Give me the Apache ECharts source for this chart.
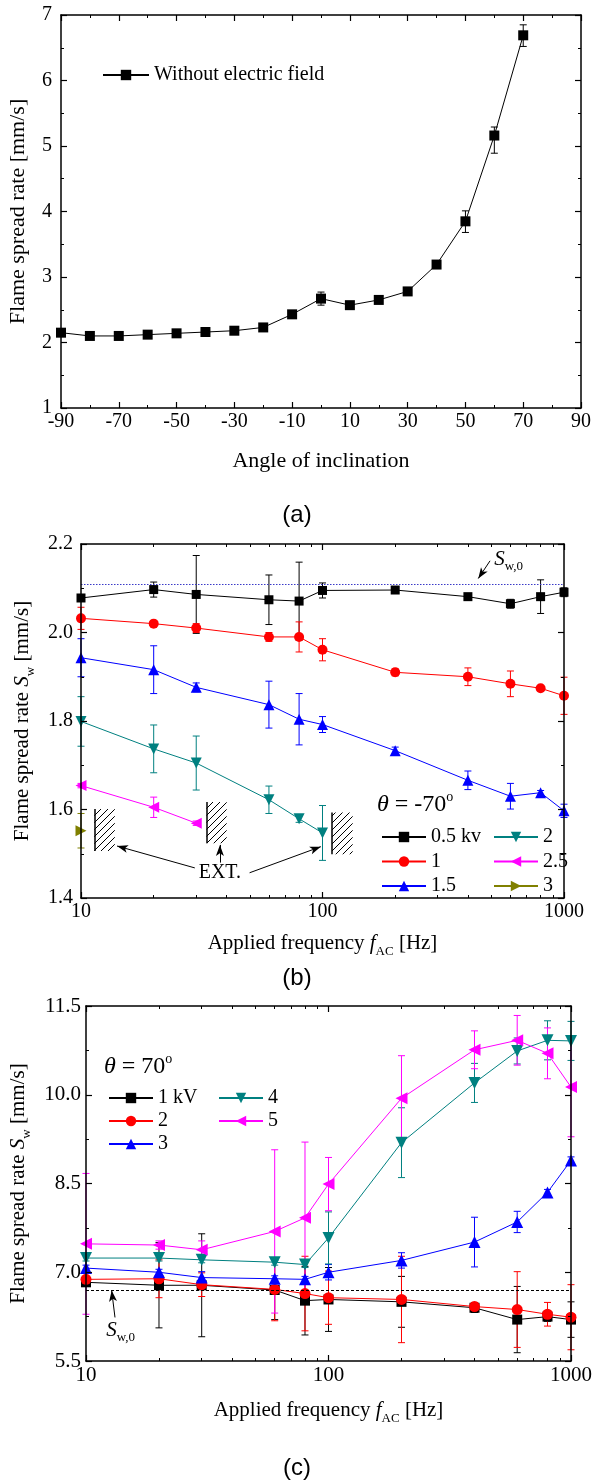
<!DOCTYPE html>
<html><head><meta charset="utf-8">
<script src="https://cdn.jsdelivr.net/npm/echarts@6/dist/echarts.min.js"></script>
<style>html,body{margin:0;padding:0;background:#fff}#c{width:594px;height:1484px}</style>
</head><body><div id="c"></div>
<script>
// ---------- Panel (a) data ----------
const angleA   = [-90,-80,-70,-60,-50,-40,-30,-20,-10,0,10,20,30,40,50,60,70];
const rateA    = [2.15,2.10,2.10,2.12,2.14,2.16,2.18,2.23,2.43,2.67,2.57,2.65,2.78,3.19,3.85,5.16,6.69];
const errUpA   = [0.03,0.03,0.03,0.03,0.03,0.03,0.03,0.03,0.03,0.10,0.03,0.03,0.03,0.03,0.16,0.13,0.16];
const errDownA = [0.03,0.03,0.03,0.03,0.03,0.03,0.03,0.03,0.03,0.10,0.03,0.03,0.03,0.03,0.17,0.27,0.17];
const xTicksA  = [-90, 90, 20];
const yTicksA  = [1, 7, 1];

// ---------- Panel (b) data : theta = -70 deg ----------
const freqB   = [10,20,30,60,80,100,200,400,600,800,1000];
const b05     = [2.078,2.097,2.086,2.074,2.071,2.095,2.096,2.081,2.065,2.081,2.091];
const b05Err  = [0.005,0.017,0.088,0.056,0.088,0.017,0.005,0.005,0.010,0.038,0.010];
const b1      = [2.032,2.020,2.010,1.990,1.990,1.961,1.910,1.900,1.884,1.874,1.857];
const b1Err   = [0.025,0.005,0.010,0.010,0.034,0.025,0.008,0.020,0.029,0.005,0.042];
const b15     = [1.943,1.916,1.876,1.837,1.804,1.792,1.733,1.666,1.630,1.638,1.597];
const b15Err  = [0.043,0.054,0.010,0.053,0.058,0.018,0.008,0.021,0.029,0.005,0.015];
const freqB2  = [10,20,30,60,80,100];
const b2      = [1.799,1.737,1.705,1.622,1.579,1.547];
const b2Err   = [0.056,0.054,0.061,0.031,0.008,0.062];
const freqB25 = [10,20,30];
const b25     = [1.654,1.605,1.569];
const b25Err  = [0.005,0.023,0.005];
const freqB3  = [10];
const b3      = [1.552];
const b3Err   = [0.039];
const sw0B    = 2.111;
const yTicksB = [1.4, 2.2, 0.2];

// ---------- Panel (c) data : theta = 70 deg ----------
const freqC  = [10,20,30,60,80,100,200,400,600,800,1000];
const c1     = [6.83,6.78,6.78,6.70,6.52,6.54,6.50,6.40,6.20,6.25,6.20];
const c1Err  = [0.05,0.72,0.87,0.50,0.58,0.54,0.43,0.08,0.56,0.08,0.30];
const c2     = [6.88,6.89,6.79,6.71,6.64,6.57,6.54,6.42,6.37,6.29,6.24];
const c2Err  = [0.10,0.32,0.20,0.53,0.63,0.45,0.73,0.07,0.64,0.20,0.55];
const c3     = [7.07,7.00,6.91,6.89,6.88,7.00,7.20,7.51,7.85,8.35,8.89];
const c3Err  = [0.05,0.05,0.10,0.05,0.05,0.13,0.13,0.42,0.18,0.05,0.06];
const c4     = [7.24,7.24,7.21,7.17,7.13,7.58,9.19,10.20,10.74,10.92,10.91];
const c4Err  = [0.05,0.05,0.05,0.05,0.05,0.44,0.59,0.33,0.22,0.33,0.33];
const c5     = [7.48,7.46,7.38,7.69,7.92,8.49,9.94,10.76,10.92,10.70,10.13];
const c5Err  = [1.19,0.07,0.15,1.38,1.28,0.45,0.72,0.32,0.42,0.43,0.84];
const sw0C   = 6.70;
const yTicksC = [5.5, 11.5, 1.5];

const minorFreqTicks = [20,30,40,50,60,70,80,90,200,300,400,500,600,700,800,900];

// ---------- Styling ----------
const SERIF = 'Liberation Serif';
const SANS = 'Liberation Sans';
const BLACK='#000000', RED='#ff0000', BLUE='#0000ff', TEAL='#008080', MAGENTA='#ff00ff', OLIVE='#808000';

const chart = echarts.init(document.getElementById('c'), null, {renderer:'canvas', width:594, height:1484});

function hatchPattern(){
  const s = 7;
  const c = document.createElement('canvas'); c.width = s; c.height = s;
  const g = c.getContext('2d');
  g.strokeStyle = '#000'; g.lineWidth = 1;
  g.beginPath();
  g.moveTo(-1, s+1); g.lineTo(s+1, -1);
  g.moveTo(-1, 1); g.lineTo(1, -1);
  g.moveTo(s-1, s+1); g.lineTo(s+1, s-1);
  g.stroke();
  return c;
}

const axisLineStyle = {color:'#000', width:1.5};
function baseAxis(extra){
  return Object.assign({
    axisLine:{show:true, onZero:false, lineStyle:axisLineStyle},
    splitLine:{show:false},
    axisTick:{show:true, inside:true, length:6, lineStyle:{color:'#000', width:1.2}},
    axisLabel:{show:false},
    z: 5
  }, extra);
}
const labelStyle = (size, margin) => ({show:true, color:'#000', fontFamily:SERIF, fontSize:size, margin:margin});
const logLabel = (size, margin) => Object.assign(labelStyle(size, margin), {formatter: v => String(Math.round(v))});
const richName = {
  n:{fontFamily:SERIF, fontSize:21, color:'#000', lineHeight:30},
  i:{fontFamily:SERIF, fontSize:21, fontStyle:'italic', color:'#000', lineHeight:30},
  s:{fontFamily:SERIF, fontSize:13, color:'#000', lineHeight:14, verticalAlign:'bottom'}
};

function errSeries(name, xs, ys, lo, hi, color, xi, yi, capW){
  return {
    type:'custom', name:name, xAxisIndex:xi, yAxisIndex:yi, silent:true, z:2,
    encode:{x:0, y:[1,2]},
    data: xs.map((x,i)=>[x, ys[i]-lo[i], ys[i]+hi[i]]),
    renderItem:(params, api)=>{
      const top = api.coord([api.value(0), api.value(2)]);
      const bot = api.coord([api.value(0), api.value(1)]);
      const x = top[0], h = capW/2;
      const st = {stroke:color, lineWidth:1};
      return {type:'group', children:[
        {type:'line', shape:{x1:x,y1:top[1],x2:x,y2:bot[1]}, style:st},
        {type:'line', shape:{x1:x-h,y1:top[1],x2:x+h,y2:top[1]}, style:st},
        {type:'line', shape:{x1:x-h,y1:bot[1],x2:x+h,y2:bot[1]}, style:st}
      ]};
    }
  };
}
function lineSeries(name, xs, ys, color, symbol, rotate, size, xi, yi){
  return {
    type:'line', name:name, xAxisIndex:xi, yAxisIndex:yi, z:3,
    data: xs.map((x,i)=>[x, ys[i]]),
    symbol:symbol, symbolRotate:rotate, symbolSize:size, showAllSymbol:true,
    lineStyle:{color:color, width:1}, itemStyle:{color:color},
    emphasis:{disabled:true}
  };
}

const labelMap = {
  'a0':'Without electric field',
  'b05':'0.5 kv','b1':'1','b15':'1.5','b2':'2','b25':'2.5','b3':'3',
  'c1':'1 kV','c2':'2','c3':'3','c4':'4','c5':'5'
};

// ---------- Axes ----------
const grids = [
  {left:61, right:13, top:15, height:393, outerBoundsMode:'none'},
  {left:81, right:30, top:544, height:354, outerBoundsMode:'none'},
  {left:86, right:23, top:1006, height:355, outerBoundsMode:'none'}
];

const logBase = {type:'log', logBase:10, min:10, max:1000};
const minorLog = {show:true, inside:true, length:3, customValues:minorFreqTicks, lineStyle:{color:'#000', width:1}};
const xAxes = [
  // panel a
  baseAxis({type:'value', gridIndex:0, position:'bottom', min:xTicksA[0], max:xTicksA[1], interval:xTicksA[2],
    minorTick:{show:true, splitNumber:2, length:3, lineStyle:{color:'#000', width:1}},
    axisLabel:labelStyle(20, 4),
    name:'Angle of inclination', nameLocation:'middle', nameGap:40,
    nameTextStyle:{fontFamily:SERIF, fontSize:22, color:'#000', lineHeight:26}}),
  baseAxis({type:'value', gridIndex:0, position:'top', min:xTicksA[0], max:xTicksA[1], interval:xTicksA[2],
    minorTick:{show:true, splitNumber:2, length:3, lineStyle:{color:'#000', width:1}}}),
  // panel b
  baseAxis(Object.assign({gridIndex:1, position:'bottom',
    axisLabel:logLabel(20, 4),
    name:'{n|Applied frequency }{i|f}{s|AC}{n| [Hz]}', nameLocation:'middle', nameGap:30,
    nameTextStyle:{rich:richName}}, logBase)),
  baseAxis(Object.assign({gridIndex:1, position:'bottom', axisLine:{show:false}, axisTick:minorLog}, logBase)),
  baseAxis(Object.assign({gridIndex:1, position:'top'}, logBase)),
  baseAxis(Object.assign({gridIndex:1, position:'top', axisLine:{show:false}, axisTick:minorLog}, logBase)),
  // panel c
  baseAxis(Object.assign({gridIndex:2, position:'bottom',
    axisLabel:logLabel(21, 4),
    name:'{n|Applied frequency }{i|f}{s|AC}{n| [Hz]}', nameLocation:'middle', nameGap:34,
    nameTextStyle:{rich:richName}}, logBase)),
  baseAxis(Object.assign({gridIndex:2, position:'bottom', axisLine:{show:false}, axisTick:minorLog}, logBase)),
  baseAxis(Object.assign({gridIndex:2, position:'top'}, logBase)),
  baseAxis(Object.assign({gridIndex:2, position:'top', axisLine:{show:false}, axisTick:minorLog}, logBase))
];

function yPair(gi, t, fmt, fontSize, margin, name, gap, rich){
  const minor = {show:true, splitNumber:2, length:3, lineStyle:{color:'#000', width:1}};
  const lab = labelStyle(fontSize, margin);
  if (fmt) lab.formatter = fmt;
  return [
    baseAxis({type:'value', gridIndex:gi, position:'left', min:t[0], max:t[1], interval:t[2], minorTick:minor,
      axisLabel:lab, name:name, nameLocation:'middle', nameRotate:90, nameGap:gap,
      nameTextStyle: rich ? {rich:richName} : {fontFamily:SERIF, fontSize:22, color:'#000', lineHeight:26}}),
    baseAxis({type:'value', gridIndex:gi, position:'right', min:t[0], max:t[1], interval:t[2], minorTick:minor})
  ];
}
const yAxes = [].concat(
  yPair(0, yTicksA, null, 20, 9, 'Flame spread rate [mm/s]', 27, false),
  yPair(1, yTicksB, v=>v.toFixed(1), 20, 8, '{n|Flame spread rate }{i|S}{s|w}{n| [mm/s]}', 34, true),
  yPair(2, yTicksC, v=>v.toFixed(1), 21, 5, '{n|Flame spread rate }{i|S}{s|w}{n| [mm/s]}', 45, true)
);

// ---------- Series ----------
const series = [];
// panel a
series.push(errSeries('a0err', angleA, rateA, errDownA, errUpA, BLACK, 0, 0, 7));
series.push(lineSeries('a0', angleA, rateA, BLACK, 'rect', 0, 10, 0, 0));

// panel b
const bDefs = [
  ['b05', freqB, b05, b05Err, BLACK, 'rect', 0, 9],
  ['b1', freqB, b1, b1Err, RED, 'circle', 0, 10],
  ['b15', freqB, b15, b15Err, BLUE, 'triangle', 0, 11],
  ['b2', freqB2, b2, b2Err, TEAL, 'triangle', 180, 11],
  ['b25', freqB25, b25, b25Err, MAGENTA, 'triangle', 90, 11],
  ['b3', freqB3, b3, b3Err, OLIVE, 'triangle', -90, 11]
];
bDefs.forEach(d=>{
  series.push(errSeries(d[0]+'err', d[1], d[2], d[3], d[3], d[4], 2, 2, 7));
  series.push(lineSeries(d[0], d[1], d[2], d[4], d[5], d[6], d[7], 2, 2));
});

// panel c
const cDefs = [
  ['c1', c1, c1Err, BLACK, 'rect', 0, 10],
  ['c2', c2, c2Err, RED, 'circle', 0, 11],
  ['c3', c3, c3Err, BLUE, 'triangle', 0, 12],
  ['c4', c4, c4Err, TEAL, 'triangle', 180, 12],
  ['c5', c5, c5Err, MAGENTA, 'triangle', 90, 12]
];
cDefs.forEach(d=>{
  series.push(errSeries(d[0]+'err', freqC, d[1], d[2], d[2], d[3], 6, 4, 7));
  series.push(lineSeries(d[0], freqC, d[1], d[3], d[4], d[5], d[6], 6, 4));
});

// ---------- Annotations (data coordinates) ----------
const hatchBoxesB = [ [[11.35,1.506],[13.8,1.601]], [[33.1,1.524],[40.1,1.617]], [[109.4,1.499],[133.3,1.593]] ];
const extArrowsB  = [ [[29.6,1.468],[14.1,1.5175]], [[37.6,1.480],[37.6,1.520]], [[49.9,1.457],[98.4,1.516]] ];
const extLabelB   = [37.6, 1.456];
const swArrowB    = [[494,2.162],[441.6,2.122]];
const swLabelB    = [590, 2.166];
const swArrowC    = [[13.17,6.236],[12.76,6.69]];
const swLabelC    = [13.9, 6.02];

const arrowLine = (p) => [{coord:p[0], symbol:'none'}, {coord:p[1], symbol:'arrow', symbolSize:[6,11]}];
const blackLS = {color:'#000', width:1, type:'solid'};

const annB = series.find(s=>s.name==='b05');
annB.markArea = {silent:true, label:{show:false},
  itemStyle:{color:{image:hatchPattern(), repeat:'repeat'}, borderWidth:0},
  data: hatchBoxesB.map(b=>[{coord:b[0]},{coord:b[1]}])};
annB.markLine = {silent:true, symbol:['none','none'], label:{show:false}, animation:false,
  data: [
    {yAxis:sw0B, lineStyle:{color:'#3a3ac8', width:1.2, type:[1.5,1.5]}},
    ...hatchBoxesB.map(b=>[{coord:[b[0][0], b[0][1]], lineStyle:{color:'#000', width:1.5, type:'solid'}}, {coord:[b[0][0], b[1][1]]}]),
    ...extArrowsB.map(a=>arrowLine(a)),
    arrowLine(swArrowB)
  ].map(d=>{ if (Array.isArray(d) && !d[0].lineStyle) d[0].lineStyle = blackLS; return d; })
};
annB.markPoint = {silent:true, symbol:'circle', symbolSize:1, itemStyle:{color:'rgba(0,0,0,0)'},
  data: [
    {coord:extLabelB, label:{show:true, position:'inside', formatter:'EXT.', color:'#000', fontFamily:SERIF, fontSize:20}},
    {coord:swLabelB, label:{show:true, position:'inside', formatter:'{i|S}{s|w,0}', rich:{
      i:{fontFamily:SERIF, fontSize:21, fontStyle:'italic', color:'#000', lineHeight:28},
      s:{fontFamily:SERIF, fontSize:13, color:'#000', lineHeight:14, verticalAlign:'bottom'}}}}
  ]};

const annC = series.find(s=>s.name==='c1');
annC.markLine = {silent:true, symbol:['none','none'], label:{show:false}, animation:false,
  data: [
    {yAxis:sw0C, lineStyle:{color:'#000', width:1.2, type:[3,2]}},
    (()=>{const a = arrowLine(swArrowC); a[0].lineStyle = blackLS; return a;})()
  ]};
annC.markPoint = {silent:true, symbol:'circle', symbolSize:1, itemStyle:{color:'rgba(0,0,0,0)'},
  data: [
    {coord:swLabelC, label:{show:true, position:'inside', formatter:'{i|S}{s|w,0}', rich:{
      i:{fontFamily:SERIF, fontSize:21, fontStyle:'italic', color:'#000', lineHeight:28},
      s:{fontFamily:SERIF, fontSize:13, color:'#000', lineHeight:14, verticalAlign:'bottom'}}}}
  ]};

// ---------- Legends ----------
const legTxt = (size)=>({fontFamily:SERIF, fontSize:size, color:'#000', lineHeight:20});
const legendCommon = {orient:'vertical', selectedMode:false, formatter:n=>labelMap[n], itemGap:4, itemWidth:44, itemHeight:13};
const legends = [
  Object.assign({}, legendCommon, {left:97, top:60, data:['a0'], itemWidth:46, textStyle:legTxt(20)}),
  Object.assign({}, legendCommon, {left:376, top:822, data:['b05','b1','b15'], itemGap:4.5, textStyle:legTxt(20)}),
  Object.assign({}, legendCommon, {left:488, top:822, data:['b2','b25','b3'], itemGap:4.5, textStyle:legTxt(20)}),
  Object.assign({}, legendCommon, {left:103, top:1083, data:['c1','c2','c3'], itemGap:3, textStyle:legTxt(20)}),
  Object.assign({}, legendCommon, {left:213, top:1083, data:['c4','c5'], itemGap:3, textStyle:legTxt(20)})
];

// ---------- Texts ----------
const thetaRich = {
  i:{fontFamily:SERIF, fontSize:24, fontStyle:'italic', color:'#000', lineHeight:30},
  n:{fontFamily:SERIF, fontSize:24, color:'#000', lineHeight:30},
  p:{fontFamily:SERIF, fontSize:14, color:'#000', lineHeight:14, verticalAlign:'top'}
};
const graphics = [
  {type:'text', left:'center', top:503, style:{text:'(a)', font:'24px "'+SANS+'"', fill:'#000'}},
  {type:'text', left:'center', top:966, style:{text:'(b)', font:'24px "'+SANS+'"', fill:'#000'}},
  {type:'text', left:'center', top:1456, style:{text:'(c)', font:'24px "'+SANS+'"', fill:'#000'}},
  {type:'text', left:377, top:790, style:{text:'{i|θ}{n| = -70}{p|o}', rich:thetaRich}},
  {type:'text', left:104, top:1052, style:{text:'{i|θ}{n| = 70}{p|o}', rich:thetaRich}}
];

chart.setOption({
  animation:false,
  backgroundColor:'#ffffff',
  grid: grids,
  xAxis: xAxes,
  yAxis: yAxes,
  legend: legends,
  series: series,
  graphic: graphics
});
</script>
</body></html>
